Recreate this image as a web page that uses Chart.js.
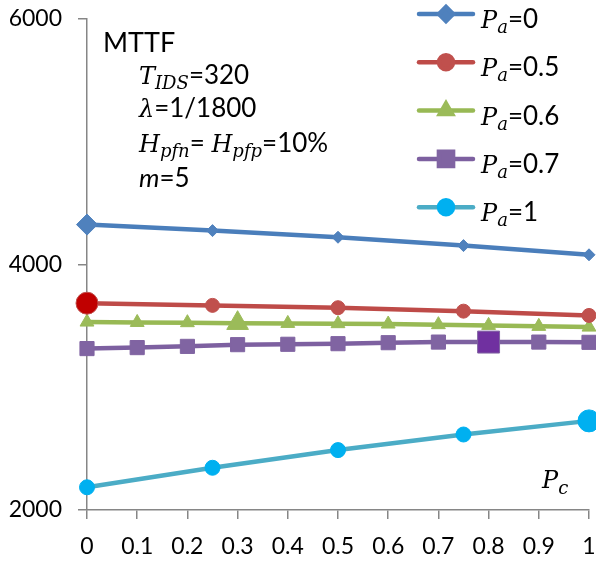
<!DOCTYPE html>
<html>
<head>
<meta charset="utf-8">
<script src="https://cdn.jsdelivr.net/npm/chart.js@4.4.0/dist/chart.umd.min.js"></script>
<style>
  body { margin: 0; background: #fff; }
  #wrap { width: 596px; height: 561px; }
</style>
</head>
<body>
<div id="wrap"><canvas id="grafico"></canvas></div>
<script>
// Valores de Pc (eixo x) e ticks
const pcGrosso = [0, 0.25, 0.5, 0.75, 1];
const pcFino = [0, 0.1, 0.2, 0.3, 0.4, 0.5, 0.6, 0.7, 0.8, 0.9, 1];
const xTicks = [0, 0.1, 0.2, 0.3, 0.4, 0.5, 0.6, 0.7, 0.8, 0.9, 1];
const yTicks = [2000, 4000, 6000];

// Series MTTF por Pa
const paRotulos = ['0', '0.5', '0.6', '0.7', '1'];
const mttfPa0 = [4325, 4276, 4222, 4154, 4079];
const mttfPa05 = [3685, 3667, 3648, 3620, 3585];
const mttfPa06 = [3531, 3528, 3526, 3522, 3520, 3518, 3515, 3510, 3504, 3496, 3490];
const mttfPa07 = [3315, 3323, 3333, 3347, 3350, 3355, 3363, 3368, 3368, 3368, 3366];
const mttfPa1 = [2185, 2344, 2488, 2615, 2726];

function pontos(xs, ys) {
  return xs.map((x, i) => ({ x: x, y: ys[i] }));
}

// monta cada serie; "destaque" = ponto com marcador maior
function serie(rotulo, xs, ys, linha, cor, corDestaque, estilo, raio, raioDestaque, destaque) {
  return {
    label: rotulo,
    data: pontos(xs, ys),
    borderColor: linha,
    borderWidth: 4.5,
    pointStyle: estilo,
    pointRadius: c => c.dataIndex === destaque ? raioDestaque : raio,
    pointBackgroundColor: c => c.dataIndex === destaque ? corDestaque : cor,
    pointBorderColor: cor,
    pointBorderWidth: 1,
    clip: false,
    tension: 0
  };
}

const SANS = 'Lato';
const SERIF = '"DejaVu Serif"';

function escreverRico(ctx, x, y, partes) {
  partes.forEach(p => {
    ctx.font = p.f;
    ctx.fillText(p.t, x, y + (p.dy || 0));
    x += ctx.measureText(p.t).width;
  });
}

const textos = {
  id: 'textos',
  afterDraw(chart) {
    const ctx = chart.ctx;
    const sans = '26px ' + SANS;
    const ital = 'italic 24px ' + SERIF;
    const sub = 'italic 18px ' + SERIF;
    ctx.save();
    ctx.fillStyle = '#000';
    ctx.textBaseline = 'alphabetic';
    ctx.textAlign = 'left';

    ctx.font = '27px ' + SANS;
    ctx.fillText('MTTF', 103, 52);
    escreverRico(ctx, 139, 84, [
      { t: 'T', f: ital }, { t: 'IDS', f: sub, dy: 5 }, { t: '=320', f: sans }
    ]);
    escreverRico(ctx, 139, 117, [
      { t: 'λ', f: ital }, { t: '=1/1800', f: sans }
    ]);
    escreverRico(ctx, 139, 152, [
      { t: 'H', f: ital }, { t: 'pfn', f: sub, dy: 5 }, { t: '= ', f: sans },
      { t: 'H', f: ital }, { t: 'pfp', f: sub, dy: 5 }, { t: '=10%', f: sans }
    ]);
    escreverRico(ctx, 139, 187, [
      { t: 'm', f: 'italic 26px ' + SANS }, { t: '=5', f: sans }
    ]);
    escreverRico(ctx, 542, 488, [
      { t: 'P', f: ital }, { t: 'c', f: sub, dy: 6 }
    ]);

    // legenda
    chart.data.datasets.forEach((ds, i) => {
      const y = 14 + i * 48.3;
      ctx.strokeStyle = ds.borderColor;
      ctx.lineWidth = 4.5;
      ctx.lineCap = 'round';
      ctx.beginPath();
      ctx.moveTo(419, y);
      ctx.lineTo(473, y);
      ctx.stroke();
      ctx.fillStyle = ds.pointBorderColor;
      ctx.strokeStyle = ds.pointBorderColor;
      Chart.helpers.drawPoint(ctx, {
        pointStyle: ds.pointStyle,
        radius: ds.pointStyle === 'rect' ? 10 : 7,
        rotation: 0,
        borderWidth: 1
      }, 446, y);
      ctx.fillStyle = '#000';
      escreverRico(ctx, 481, y + 14, [
        { t: 'P', f: ital }, { t: 'a', f: sub, dy: 5 }, { t: '=' + paRotulos[i], f: sans }
      ]);
    });
    ctx.restore();
  }
};

const ctx = document.getElementById('grafico').getContext('2d');
new Chart(ctx, {
  type: 'line',
  data: {
    datasets: [
      serie('Pa=' + paRotulos[0], pcGrosso, mttfPa0, '#4A7EBB', '#4F81BD', '#4F81BD', 'rectRot', 6, 10.5, 0),
      serie('Pa=' + paRotulos[1], pcGrosso, mttfPa05, '#BE4B48', '#C0504D', '#C00000', 'circle', 7, 11, 0),
      serie('Pa=' + paRotulos[2], pcFino, mttfPa06, '#98B954', '#9BBB59', '#9BBB59', 'triangle', 8, 12.5, 3),
      serie('Pa=' + paRotulos[3], pcFino, mttfPa07, '#7D60A0', '#8064A2', '#7030A0', 'rect', 10, 15.5, 8),
      serie('Pa=' + paRotulos[4], pcGrosso, mttfPa1, '#4BACC6', '#00B0F0', '#00B0F0', 'circle', 7.5, 11, 4)
    ]
  },
  options: {
    responsive: true,
    maintainAspectRatio: false,
    animation: false,
    elements: { line: { borderWidth: 4.5 } },
    layout: { autoPadding: false, padding: 0 },
    plugins: { legend: { display: false }, tooltip: { enabled: false } },
    scales: {
      x: {
        type: 'linear', min: 0, max: 1,
        afterBuildTicks: s => { s.ticks = xTicks.map(v => ({ value: v })); },
        afterFit: s => { s.height = 51; s.paddingRight = 7; s.paddingLeft = 0; },
        grid: { drawOnChartArea: false, color: '#868686', tickLength: 9, lineWidth: 1.5 },
        border: { color: '#868686', width: 1.5 },
        ticks: {
          font: { family: SANS, size: 23 }, color: '#000', padding: 14,
          maxRotation: 0, autoSkip: false, callback: v => String(v)
        }
      },
      y: {
        min: 2000, max: 6000,
        afterBuildTicks: s => { s.ticks = yTicks.map(v => ({ value: v })); },
        afterFit: s => { s.width = 87; s.paddingTop = 19; s.paddingBottom = 0; },
        grid: { drawOnChartArea: false, color: '#868686', tickLength: 9, lineWidth: 1.5 },
        border: { color: '#868686', width: 1.5 },
        ticks: { font: { family: SANS, size: 23 }, color: '#000', padding: 16, callback: v => String(v) }
      }
    }
  },
  plugins: [textos]
});
</script>
</body>
</html>
